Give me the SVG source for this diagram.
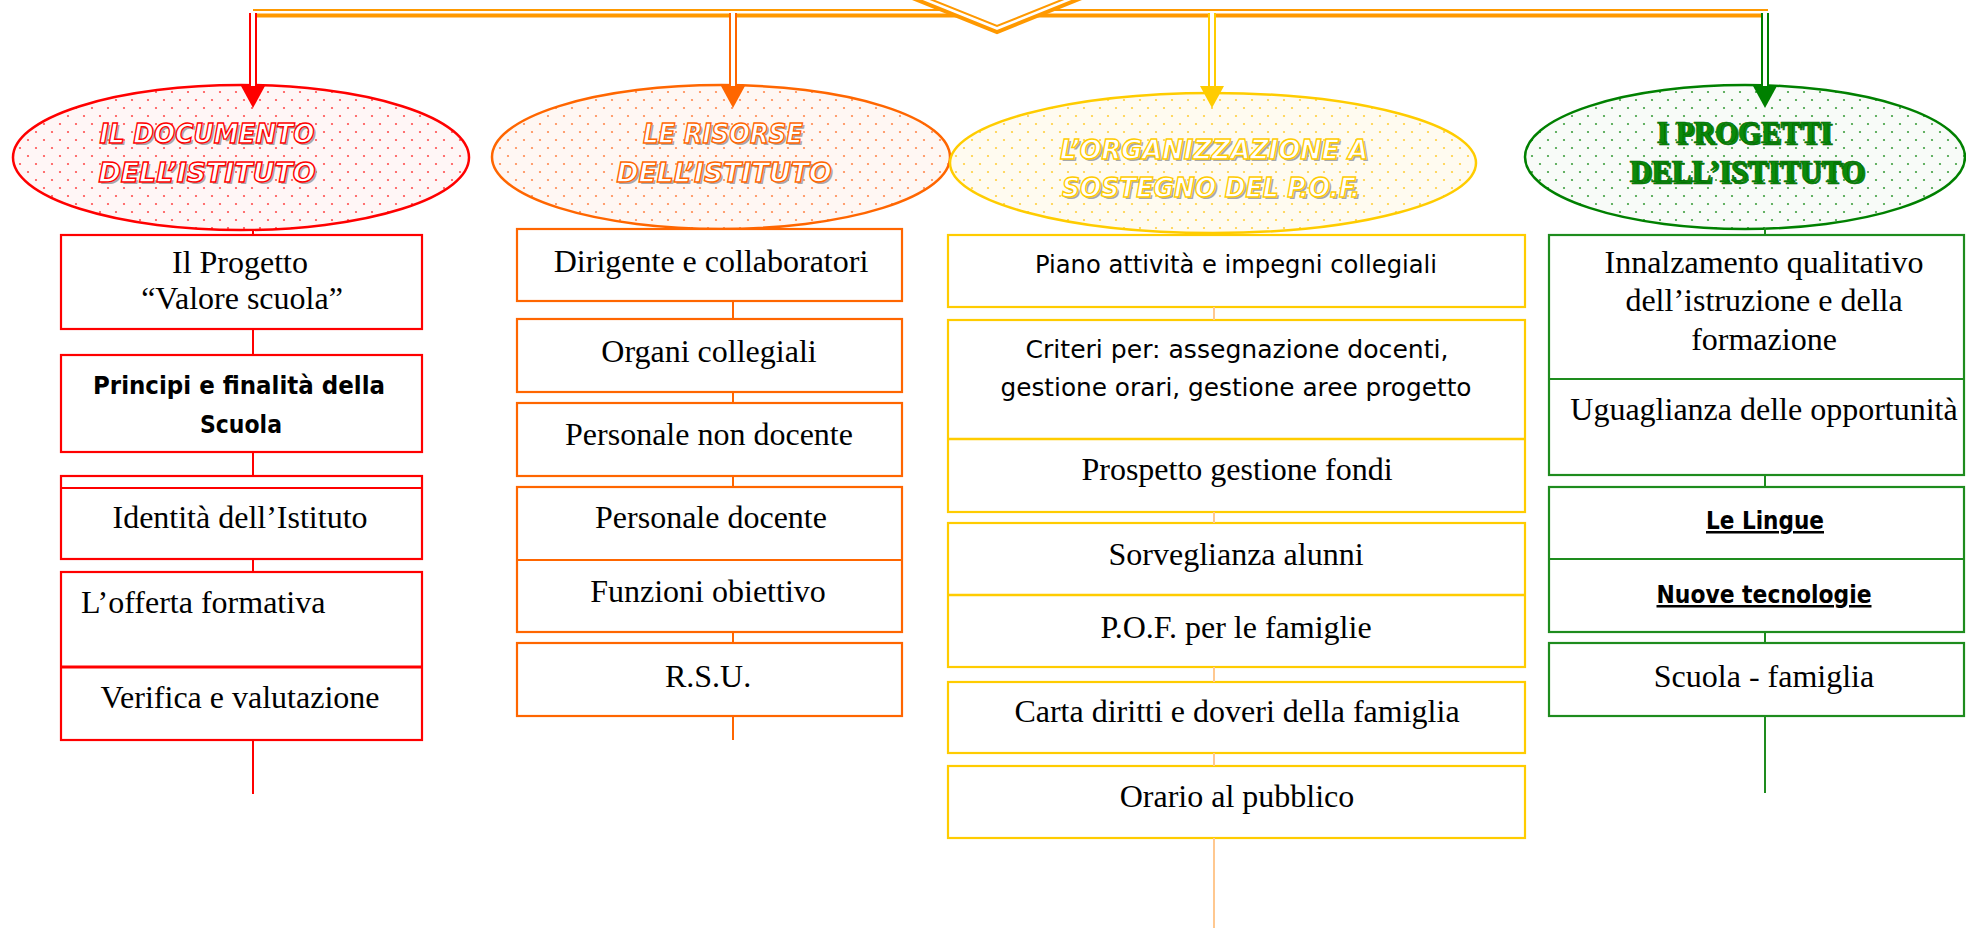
<svg xmlns="http://www.w3.org/2000/svg" xmlns:xlink="http://www.w3.org/1999/xlink" width="1966" height="928" viewBox="0 0 1966 928">
<style>
.box{fill:#fff;stroke-width:2.2}
.r{stroke:#FF0000}.o{stroke:#FF6600}.y{stroke:#FFCC00}.g{stroke:#1E8C1E}
.t{font-family:"Liberation Serif","Times New Roman",serif;font-size:32px;fill:#000;text-anchor:middle}
.c{font-family:"DejaVu Sans","Noto Sans",sans-serif;font-size:24px;fill:#000;text-anchor:middle}
.cb{font-weight:bold;font-size:25px}
.u{text-decoration:underline}
.et{font-family:"DejaVu Sans","Liberation Sans",sans-serif;font-size:27px;font-weight:bold;font-style:italic;text-anchor:middle;fill:#fff;stroke-width:1.4}
.sh{fill:#A8A8A8;stroke:none}
.gt{font-family:"Liberation Serif","Times New Roman",serif;font-size:32px;font-weight:bold;text-anchor:middle;fill:#0A8A0A;stroke:#006400;stroke-width:0.6}
.ell{stroke-width:2.5}
.conn line{stroke-width:2}
</style>
<defs>
<pattern id="dR" width="16" height="16" patternUnits="userSpaceOnUse"><rect width="16" height="16" fill="#FFF6F6"/><circle cx="4" cy="4" r="1.1" fill="#FF5050"/><circle cx="12" cy="12" r="1.1" fill="#FF5050"/></pattern>
<pattern id="dO" width="16" height="16" patternUnits="userSpaceOnUse"><rect width="16" height="16" fill="#FFF7F3"/><circle cx="4" cy="4" r="1.1" fill="#FF8A50"/><circle cx="12" cy="12" r="1.1" fill="#FF8A50"/></pattern>
<pattern id="dY" width="16" height="16" patternUnits="userSpaceOnUse"><rect width="16" height="16" fill="#FFFBF0"/><circle cx="4" cy="4" r="1.1" fill="#FFD040"/><circle cx="12" cy="12" r="1.1" fill="#FFD040"/></pattern>
<pattern id="dG" width="16" height="16" patternUnits="userSpaceOnUse"><rect width="16" height="16" fill="#F8FBF8"/><circle cx="4" cy="4" r="1.1" fill="#40A040"/><circle cx="12" cy="12" r="1.1" fill="#40A040"/></pattern>
<path id="ah" d="M-12,0 L12,0 L0,22 Z"/>
</defs>

<!-- ellipses -->
<g id="n-documento">
  <ellipse class="ell" cx="241" cy="157.5" rx="228" ry="72.5" fill="url(#dR)" stroke="#FF0000"/>
  <text class="et sh" x="209" y="145" textLength="215" lengthAdjust="spacingAndGlyphs">IL DOCUMENTO</text>
  <text class="et sh" x="209" y="184" textLength="217" lengthAdjust="spacingAndGlyphs">DELL’ISTITUTO</text>
  <text class="et" stroke="#FF0000" x="207" y="143" textLength="215" lengthAdjust="spacingAndGlyphs">IL DOCUMENTO</text>
  <text class="et" stroke="#FF0000" x="207" y="182" textLength="217" lengthAdjust="spacingAndGlyphs">DELL’ISTITUTO</text>
</g>
<g id="n-risorse">
  <ellipse class="ell" cx="721" cy="157" rx="229" ry="72" fill="url(#dO)" stroke="#FF6600"/>
  <text class="et sh" x="725" y="145" textLength="160" lengthAdjust="spacingAndGlyphs">LE RISORSE</text>
  <text class="et sh" x="726" y="184" textLength="215" lengthAdjust="spacingAndGlyphs">DELL’ISTITUTO</text>
  <text class="et" stroke="#FF6600" x="723" y="143" textLength="160" lengthAdjust="spacingAndGlyphs">LE RISORSE</text>
  <text class="et" stroke="#FF6600" x="724" y="182" textLength="215" lengthAdjust="spacingAndGlyphs">DELL’ISTITUTO</text>
</g>
<g id="n-organizzazione">
  <ellipse class="ell" cx="1213" cy="163" rx="263" ry="70" fill="url(#dY)" stroke="#FFCC00"/>
  <text class="et sh" x="1216" y="161" textLength="308" lengthAdjust="spacingAndGlyphs">L’ORGANIZZAZIONE A</text>
  <text class="et sh" x="1213" y="199" textLength="298" lengthAdjust="spacingAndGlyphs">SOSTEGNO DEL P.O.F.</text>
  <text class="et" stroke="#FFCC00" x="1214" y="159" textLength="308" lengthAdjust="spacingAndGlyphs">L’ORGANIZZAZIONE A</text>
  <text class="et" stroke="#FFCC00" x="1211" y="197" textLength="298" lengthAdjust="spacingAndGlyphs">SOSTEGNO DEL P.O.F.</text>
</g>
<g id="n-progetti">
  <ellipse class="ell" cx="1745" cy="157" rx="220" ry="72" fill="url(#dG)" stroke="#008000"/>
  <text class="gt sh" x="1746" y="145" textLength="175" lengthAdjust="spacingAndGlyphs">I PROGETTI</text>
  <text class="gt sh" x="1749" y="184" textLength="235" lengthAdjust="spacingAndGlyphs">DELL’ISTITUTO</text>
  <text class="gt" x="1744" y="143" textLength="175" lengthAdjust="spacingAndGlyphs">I PROGETTI</text>
  <text class="gt" x="1747" y="182" textLength="235" lengthAdjust="spacingAndGlyphs">DELL’ISTITUTO</text>
</g>

<!-- red column -->
<g id="r1">
  <rect class="box r" x="61" y="235" width="361" height="94"/>
  <text class="t" x="240" y="273">Il Progetto</text>
  <text class="t" x="242" y="309">“Valore scuola”</text>
</g>
<g id="r2">
  <rect class="box r" x="61" y="355" width="361" height="97"/>
  <text class="c cb" x="239" y="394" textLength="292" lengthAdjust="spacingAndGlyphs">Principi e finalità della</text>
  <text class="c cb" x="241" y="433" textLength="82" lengthAdjust="spacingAndGlyphs">Scuola</text>
</g>
<g id="r3">
  <rect class="box r" x="61" y="476" width="361" height="83"/>
  <line x1="61" y1="488" x2="422" y2="488" stroke="#FF0000" stroke-width="2.2"/>
  <text class="t" x="240" y="528">Identità dell’Istituto</text>
</g>
<g id="r4">
  <rect class="box r" x="61" y="572" width="361" height="168"/>
  <line x1="61" y1="667" x2="422" y2="667" stroke="#FF0000" stroke-width="3"/>
  <text class="t" x="81" y="613" style="text-anchor:start">L’offerta formativa</text>
  <text class="t" x="240" y="708">Verifica e valutazione</text>
</g>

<!-- orange column -->
<g id="o1">
  <rect class="box o" x="517" y="229" width="385" height="72"/>
  <text class="t" x="711" y="272">Dirigente e collaboratori</text>
</g>
<g id="o2">
  <rect class="box o" x="517" y="319" width="385" height="73"/>
  <text class="t" x="709" y="362">Organi collegiali</text>
</g>
<g id="o3">
  <rect class="box o" x="517" y="403" width="385" height="73"/>
  <text class="t" x="709" y="445">Personale non docente</text>
</g>
<g id="o4">
  <rect class="box o" x="517" y="487" width="385" height="145"/>
  <line x1="517" y1="560" x2="902" y2="560" stroke="#FF6600" stroke-width="2.2"/>
  <text class="t" x="711" y="528">Personale docente</text>
  <text class="t" x="708" y="602">Funzioni obiettivo</text>
</g>
<g id="o5">
  <rect class="box o" x="517" y="643" width="385" height="73"/>
  <text class="t" x="708" y="687">R.S.U.</text>
</g>

<!-- yellow column -->
<g id="y1">
  <rect class="box y" x="948" y="235" width="577" height="72"/>
  <text class="c" x="1236" y="273" textLength="402" lengthAdjust="spacingAndGlyphs">Piano attività e impegni collegiali</text>
</g>
<g id="y2">
  <rect class="box y" x="948" y="320" width="577" height="192"/>
  <line x1="948" y1="439" x2="1525" y2="439" stroke="#FFCC00" stroke-width="2.5"/>
  <text class="c" x="1237" y="358" textLength="423" lengthAdjust="spacingAndGlyphs">Criteri per:  assegnazione docenti,</text>
  <text class="c" x="1236" y="396" textLength="471" lengthAdjust="spacingAndGlyphs">gestione orari, gestione aree progetto</text>
  <text class="t" x="1237" y="480">Prospetto gestione fondi</text>
</g>
<g id="y3">
  <rect class="box y" x="948" y="523" width="577" height="144"/>
  <line x1="948" y1="595" x2="1525" y2="595" stroke="#FFCC00" stroke-width="2.5"/>
  <text class="t" x="1236" y="565">Sorveglianza alunni</text>
  <text class="t" x="1236" y="638">P.O.F. per le famiglie</text>
</g>
<g id="y4">
  <rect class="box y" x="948" y="682" width="577" height="71"/>
  <text class="t" x="1237" y="722">Carta diritti e doveri della famiglia</text>
</g>
<g id="y5">
  <rect class="box y" x="948" y="766" width="577" height="72"/>
  <text class="t" x="1237" y="807">Orario al pubblico</text>
</g>

<!-- green column -->
<g id="g1">
  <rect class="box g" x="1549" y="235" width="415" height="240"/>
  <line x1="1549" y1="379" x2="1964" y2="379" stroke="#1E8C1E" stroke-width="2.2"/>
  <text class="t" x="1764" y="273">Innalzamento qualitativo</text>
  <text class="t" x="1764" y="311">dell’istruzione e della</text>
  <text class="t" x="1764" y="350">formazione</text>
  <text class="t" x="1764" y="420">Uguaglianza delle opportunità</text>
</g>
<g id="g2">
  <rect class="box g" x="1549" y="487" width="415" height="145"/>
  <line x1="1549" y1="559" x2="1964" y2="559" stroke="#1E8C1E" stroke-width="2.2"/>
  <text class="c cb u" x="1765" y="529" textLength="118" lengthAdjust="spacingAndGlyphs">Le Lingue</text>
  <text class="c cb u" x="1764" y="603" textLength="215" lengthAdjust="spacingAndGlyphs">Nuove tecnologie</text>
</g>
<g id="g3">
  <rect class="box g" x="1549" y="643" width="415" height="73"/>
  <text class="t" x="1764" y="687">Scuola - famiglia</text>
</g>

<g id="connectors">
  <!-- top double bar -->
  <line x1="253" y1="10" x2="1768" y2="10" stroke="#FF9900" stroke-width="2"/>
  <line x1="253" y1="15.5" x2="1768" y2="15.5" stroke="#FF9900" stroke-width="4"/>
  <!-- chevron -->
  <polygon points="895,-9 997,32 1099,-9" fill="#fff"/>
  <polyline points="895,-9 997,32 1099,-9" fill="none" stroke="#FF9900" stroke-width="4"/>
  <polyline points="910,-9 997,26 1084,-9" fill="none" stroke="#FF9900" stroke-width="2"/>
  <!-- double arrows -->
  <line x1="253" y1="13" x2="253" y2="88" stroke="#FF0000" stroke-width="8"/>
  <line x1="253" y1="13" x2="253" y2="88" stroke="#fff" stroke-width="4"/>
  <use href="#ah" x="253" y="86" fill="#FF0000"/>
  <line x1="733" y1="13" x2="733" y2="88" stroke="#FF6600" stroke-width="8"/>
  <line x1="733" y1="13" x2="733" y2="88" stroke="#fff" stroke-width="4"/>
  <use href="#ah" x="733" y="86" fill="#FF6600"/>
  <line x1="1212" y1="13" x2="1212" y2="88" stroke="#FFCC00" stroke-width="8"/>
  <line x1="1212" y1="13" x2="1212" y2="88" stroke="#fff" stroke-width="4"/>
  <use href="#ah" x="1212" y="86" fill="#FFCC00"/>
  <line x1="1765" y1="13" x2="1765" y2="88" stroke="#008000" stroke-width="8"/>
  <line x1="1765" y1="13" x2="1765" y2="88" stroke="#fff" stroke-width="4"/>
  <use href="#ah" x="1765" y="86" fill="#008000"/>
  <!-- column links -->
  <g class="conn">
    <line x1="253" y1="229" x2="253" y2="235" stroke="#FF0000"/>
    <line x1="253" y1="329" x2="253" y2="355" stroke="#FF0000"/>
    <line x1="253" y1="452" x2="253" y2="476" stroke="#FF0000"/>
    <line x1="253" y1="559" x2="253" y2="572" stroke="#FF0000"/>
    <line x1="253" y1="740" x2="253" y2="794" stroke="#FF0000"/>
    <line x1="733" y1="301" x2="733" y2="319" stroke="#FF6600"/>
    <line x1="733" y1="392" x2="733" y2="403" stroke="#FF6600"/>
    <line x1="733" y1="476" x2="733" y2="487" stroke="#FF6600"/>
    <line x1="733" y1="632" x2="733" y2="643" stroke="#FF6600"/>
    <line x1="733" y1="716" x2="733" y2="740" stroke="#FF6600"/>
    <line x1="1214" y1="307" x2="1214" y2="320" stroke="#FFC890"/>
    <line x1="1214" y1="512" x2="1214" y2="523" stroke="#FFC890"/>
    <line x1="1214" y1="667" x2="1214" y2="682" stroke="#FFC890"/>
    <line x1="1214" y1="753" x2="1214" y2="766" stroke="#FFC890"/>
    <line x1="1214" y1="838" x2="1214" y2="928" stroke="#FFC890"/>
    <line x1="1765" y1="228" x2="1765" y2="235" stroke="#1E8C1E"/>
    <line x1="1765" y1="475" x2="1765" y2="487" stroke="#1E8C1E"/>
    <line x1="1765" y1="632" x2="1765" y2="643" stroke="#1E8C1E"/>
    <line x1="1765" y1="716" x2="1765" y2="793" stroke="#1E8C1E"/>
  </g>
</g>
</svg>
